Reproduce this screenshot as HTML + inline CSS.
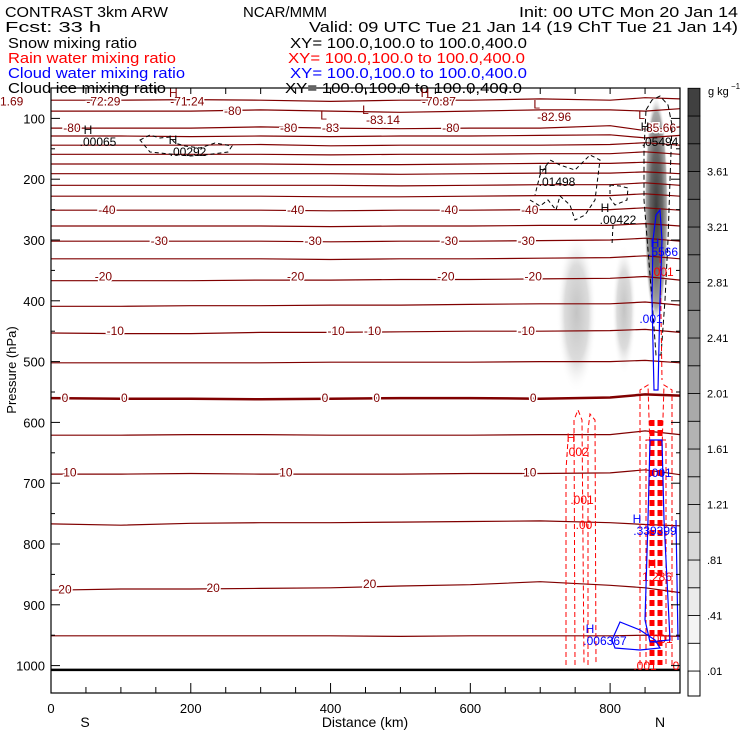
<!DOCTYPE html>
<html><head><meta charset="utf-8"><style>
body{margin:0;background:#fff}
svg{display:block;font-family:"Liberation Sans",sans-serif}
.t{font-size:15px}
.lab{font-size:12px;paint-order:stroke;stroke:#fff;stroke-width:3px}
</style></head><body>
<svg id="chart" width="740" height="740" viewBox="0 0 740 740">
<defs>
<radialGradient id="gA"><stop offset="0" stop-color="#c4c4c4"/><stop offset="0.6" stop-color="#dcdcdc"/><stop offset="1" stop-color="#fff" stop-opacity="0"/></radialGradient>
<radialGradient id="gC"><stop offset="0" stop-color="#3c3c3c"/><stop offset="0.5" stop-color="#666"/><stop offset="0.85" stop-color="#aaa"/><stop offset="1" stop-color="#fff" stop-opacity="0"/></radialGradient>
</defs>
<g class="t">
<text x="5" y="17" textLength="163" lengthAdjust="spacingAndGlyphs">CONTRAST  3km ARW</text>
<text x="243" y="17" textLength="84" lengthAdjust="spacingAndGlyphs">NCAR/MMM</text>
<text x="519" y="17" textLength="219" lengthAdjust="spacingAndGlyphs">Init: 00 UTC Mon 20 Jan 14</text>
<text x="5" y="32" textLength="96" lengthAdjust="spacingAndGlyphs">Fcst:   33 h</text>
<text x="309" y="32" textLength="429" lengthAdjust="spacingAndGlyphs">Valid: 09 UTC Tue 21 Jan 14 (19 ChT Tue 21 Jan 14)</text>
<text x="8" y="48" textLength="129" lengthAdjust="spacingAndGlyphs">Snow mixing ratio</text>
<text x="290" y="48" textLength="237" lengthAdjust="spacingAndGlyphs">XY= 100.0,100.0 to 100.0,400.0</text>
<text x="8" y="63" fill="#f00" textLength="168" lengthAdjust="spacingAndGlyphs">Rain water mixing ratio</text>
<text x="288" y="63" fill="#f00" textLength="237" lengthAdjust="spacingAndGlyphs">XY= 100.0,100.0 to 100.0,400.0</text>
<text x="8" y="78" fill="#00f" textLength="177" lengthAdjust="spacingAndGlyphs">Cloud water mixing ratio</text>
<text x="290" y="78" fill="#00f" textLength="237" lengthAdjust="spacingAndGlyphs">XY= 100.0,100.0 to 100.0,400.0</text>
<text x="8" y="93" textLength="158" lengthAdjust="spacingAndGlyphs">Cloud ice mixing ratio</text>
<text x="285" y="93" textLength="237" lengthAdjust="spacingAndGlyphs">XY= 100.0,100.0 to 100.0,400.0</text>
</g>
<g id="plot"></g>
<g id="axes"></g>
<g id="cbar"></g>
</svg>
<script>
// ---- data ----
const distKm = [0,100,200,300,400,500,600,700,800,850,900];
const isoTemps = [-70,-75,-80,-75,-70,-65,-60,-55,-50,-45,-40,-35,-30,-25,-20,-15,-10,-5,0,5,10,15,20,25,999];
const isoPres = [
 [70,70,69,70,72,70,70,68,70,66,68],
 [88,88,88,86,88,90,88,86,86,88,84],
 [116,116,116,114,116,117,116,116,112,120,114],
 [129,129,130,129,130,129,129,128,127,132,128],
 [144,144,144,143,145,144,144,144,143,140,144],
 [159,159,159,159,160,159,159,158,158,155,159],
 [175,175,175,175,176,176,175,174,174,172,175],
 [191,191,191,191,191,192,191,190,190,188,191],
 [210,210,210,210,210,211,210,209,209,206,210],
 [228,228,228,228,229,229,228,227,227,224,228],
 [251,251,251,251,252,251,251,250,250,247,251],
 [277,277,277,277,278,277,277,276,276,273,277],
 [302,302,302,302,303,302,302,301,300,297,302],
 [331,331,331,331,332,331,331,330,329,326,331],
 [367,367,367,366,366,365,365,364,363,360,366],
 [409,409,408,408,407,407,406,405,405,402,407],
 [453,454,454,452,452,451,450,450,449,447,452],
 [502,502,502,502,501,501,501,500,500,498,502],
 [560,561,561,562,561,560,560,561,559,554,556],
 [621,621,620,620,621,621,621,620,620,614,620],
 [685,685,684,685,685,685,684,684,683,678,686],
 [767,769,766,765,765,764,763,762,765,768,770],
 [876,874,874,873,872,869,867,862,868,872,880],
 [951,951,951,951,951,952,951,951,951,950,952],
 [1007,1007,1007,1007,1007,1007,1007,1007,1007,1007,1007]
];
const tempLabels = [
 ["-40",80,251],["-40",350,251],["-40",570,251],["-40",685,251],
 ["-30",155,302],["-30",375,302],["-30",570,302],["-30",680,302],
 ["-20",75,360],["-20",350,360],["-20",565,360],["-20",690,360],
 ["-10",92,450],["-10",408,450],["-10",460,450],["-10",680,450],
 ["0",20,560],["0",105,560],["0",392,560],["0",466,560],["0",690,560],
 ["10",27,682],["10",336,682],["10",685,682],
 ["20",20,875],["20",232,872],["20",456,866],
 ["-80",30,116],["-80",260,88],["-80",340,116],["-80",572,116],
 ["-72.29",75,72],["-71.24",195,72],["-70.87",555,72],["-83",400,116],["-83.14",475,103],["-82.96",720,98],["-85.66",870,116]
];
const extremaLabels = [["L",390,95],["L",450,86],["L",695,77],["L",845,94],["H",175,58],["H",535,58]];
const colorLevels = [0.01,0.21,0.41,0.61,0.81,1.01,1.21,1.41,1.61,1.81,2.01,2.21,2.41,2.61,2.81,3.01,3.21,3.41,3.61,3.81,4.01,4.21];
const colorTickLabels = [".01",".41",".81","1.21","1.61","2.01","2.41","2.81","3.21","3.61"];
const xTicks = [0,200,400,600,800];
const yTicks = [100,200,300,400,500,600,700,800,900,1000];

// ---- scales ----
const X0=51, X1=680, Y0=88, Y1=693;
const xs = d => X0 + d*(X1-X0)/900;
const ys = p => Y0 + (p-50)*0.608;
const NS='http://www.w3.org/2000/svg';
function mk(tag, attrs, parent, txt){const e=document.createElementNS(NS,tag);for(const k in attrs)e.setAttribute(k,attrs[k]);if(txt!==undefined)e.textContent=txt;parent.appendChild(e);return e;}
const plot=document.getElementById('plot'), axes=document.getElementById('axes'), cbar=document.getElementById('cbar');

// shading (snow)
let e;
e=mk('ellipse',{cx:xs(752),cy:ys(420),rx:20,ry:80,fill:'url(#gA)'},plot);


e=mk('ellipse',{cx:xs(820),cy:ys(415),rx:12,ry:65,fill:'url(#gA)'},plot);


e=mk('ellipse',{cx:xs(866),cy:ys(250),rx:12,ry:115,fill:'url(#gC)'},plot);



// isotherms
isoTemps.forEach((t,i)=>{
  const pts=isoPres[i].map((p,j)=>xs(distKm[j]).toFixed(1)+','+ys(p).toFixed(1)).join(' ');
  const last=t===999;
  const l=mk('polyline',{points:pts,fill:'none',stroke:last?'#000':'#800000','stroke-width':(t===0)?2.5:(last?2.5:1.2)},plot);
  
  
});
tempLabels.forEach(a=>{
  const tx=mk('text',{x:xs(a[1]),y:ys(a[2])+4,'text-anchor':'middle',fill:'#800000',class:'lab'},plot,a[0]);
  
  
});
extremaLabels.forEach(a=>{
  const tx=mk('text',{x:xs(a[1]),y:ys(a[2])+4,'text-anchor':'middle',fill:'#800000','font-size':'12'},plot,a[0]);
  
  
});
e=mk('text',{x:0,y:ys(72)+4,fill:'#800000','font-size':'12'},plot,'1.69');



// cloud ice (black thin/dashed)
const iceG=mk('g',{fill:'none',stroke:'#000','stroke-width':1},plot);


mk('path',{d:'M140,140 L150,135 L160,138 L170,137 L175,143 L185,146 L200,148 L215,143 L232,146 L228,152 L205,155 L190,156 L170,154 L150,152 Z','stroke-dasharray':'4,3'},iceG);
mk('path',{d:'M530,200 L540,206 L548,200 L556,210 L560,196 L570,205 L575,220 L585,215 L595,200 L600,160 L590,155 L575,170 L560,165 L550,160 L540,175 L535,195','stroke-dasharray':'4,3'},iceG);
mk('path',{d:'M610,185 L620,186 L628,188 L627,200 L615,205 L610,198 Z M613,225 L612,245','stroke-dasharray':'4,3'},iceG);
mk('path',{d:'M646,110 L652,100 L660,96 L668,105 L672,125 L670,180 L668,240 L665,300 L661,355 L656,355 L652,300 L648,250 L644,200 L644,150 Z','stroke-dasharray':'5,3'},iceG);
[['H',88,134],['.00065',98,146],['H',173,144],['.00292',188,156],['H',543,174],['.01498',557,186],['H',605,212],['.00422',618,224],['H',645,131],['.05494',660,146]].forEach(a=>{
  const tx=mk('text',{x:a[1],y:a[2],'text-anchor':'middle','font-size':'12',fill:'#000',stroke:'none'},iceG,a[0]);
  
  
});

// rain (red dashed)
const rainG=mk('g',{fill:'none',stroke:'#f00','stroke-width':1,'stroke-dasharray':'5,3'},plot);


mk('path',{d:'M575,665 L574,420 L578,410 L582,420 L584,665 M588,665 L588,430 L590,414 L595,420 L596,665 M566,665 L566,470 L568,440'},rainG);
mk('path',{d:'M640,665 L640,390 L648,385 L650,450 M672,665 L672,390 L664,385 L662,450 M646,665 L646,440 L666,440 L666,665 M660,250 L662,380'},rainG);
mk('path',{d:'M652,420 L652,665 M660,420 L660,665','stroke-width':5,'stroke-dasharray':'6,4'},rainG);
[['H',571,442],['.002',577,456],['.001',582,504],['.00',584,529],['.001',662,276],['1.286',657,581],['H',652,568],['.001',645,670],['0',676,670],['.001',661,643]].forEach(a=>{
  const tx=mk('text',{x:a[1],y:a[2],'text-anchor':'middle','font-size':'12',fill:'#f00',stroke:'none'},rainG,a[0]);
  
  
});

// cloud water (blue solid)
const cwG=mk('g',{fill:'none',stroke:'#00f','stroke-width':1.2},plot);


mk('path',{d:'M656,215 L660,210 L662,240 L660,300 L658,390 L654,390 L652,300 L653,240 Z M650,440 L662,440 L664,520 L668,600 L670,640 L650,642 L645,620 L648,520 Z M676,520 L678,640 M612,640 L620,622 L640,630 L655,640 L660,648 L640,650 L615,648 Z'},cwG);
[['H',655,247],['.5566',663,256],['.001',651,323],['H',637,523],['.339399',655,535],['H',590,633],['.006367',605,645],['.001',660,477]].forEach(a=>{
  const tx=mk('text',{x:a[1],y:a[2],'text-anchor':'middle','font-size':'12',fill:'#00f',stroke:'none'},cwG,a[0]);
  
  
});

// axes frame + ticks
e=mk('rect',{x:X0,y:Y0,width:X1-X0,height:Y1-Y0,fill:'none',stroke:'#000','stroke-width':1.2},axes);


for(let d=0;d<=900;d+=50){const big=d%200===0;
  mk('line',{x1:xs(d),x2:xs(d),y1:Y1,y2:Y1-(big?10:6),stroke:'#000'},axes);
  mk('line',{x1:xs(d),x2:xs(d),y1:Y0,y2:Y0+6,stroke:'#000'},axes);}
for(let p=100;p<=1000;p+=50){const big=p%100===0;
  mk('line',{x1:X0,x2:X0+(big?9:4),y1:ys(p),y2:ys(p),stroke:'#000'},axes);
  mk('line',{x1:X1,x2:X1-(big?9:4),y1:ys(p),y2:ys(p),stroke:'#000'},axes);}
xTicks.forEach(d=>{const tx=mk('text',{x:xs(d),y:713,'text-anchor':'middle','font-size':'13'},axes,String(d));
  
  });
yTicks.forEach(p=>{const tx=mk('text',{x:45,y:ys(p)+5,'text-anchor':'end','font-size':'13'},axes,String(p));
  
  });
e=mk('text',{x:365,y:727,'text-anchor':'middle','font-size':'14'},axes,'Distance (km)');


e=mk('text',{x:85,y:727,'text-anchor':'middle','font-size':'14'},axes,'S');


e=mk('text',{x:660,y:727,'text-anchor':'middle','font-size':'14'},axes,'N');


e=mk('text',{x:16,y:370,'text-anchor':'middle','font-size':'13',transform:'rotate(-90 16 370)'},axes,'Pressure (hPa)');



// colorbar
const CBstep=27.75, CBx=688, CBw=12, CBbot=696;
const cy = v => 671 - (v-0.01)/0.2*CBstep;
e=mk('rect',{x:CBx,y:cy(0.01),width:CBw,height:CBbot-cy(0.01),fill:'#fff',stroke:'#000'},cbar);


for(let i=0;i<colorLevels.length-1;i++){
  const g=Math.round(255-(255-64)*i/(colorLevels.length-2));
  const r=mk('rect',{x:CBx,y:cy(colorLevels[i+1]),width:CBw,height:CBstep,fill:`rgb(${g},${g},${g})`,stroke:'#000','stroke-width':0.8},cbar);
  
  
}
colorTickLabels.forEach(s=>{const v=parseFloat(s);
  const tx=mk('text',{x:707,y:cy(v)+4,'font-size':'11'},cbar,s);
  
  });
e=mk('text',{x:708,y:95,'font-size':'11'},cbar,'g kg');


e=mk('text',{x:731,y:89,'font-size':'8'},cbar,'−1');


</script>
</body></html>
